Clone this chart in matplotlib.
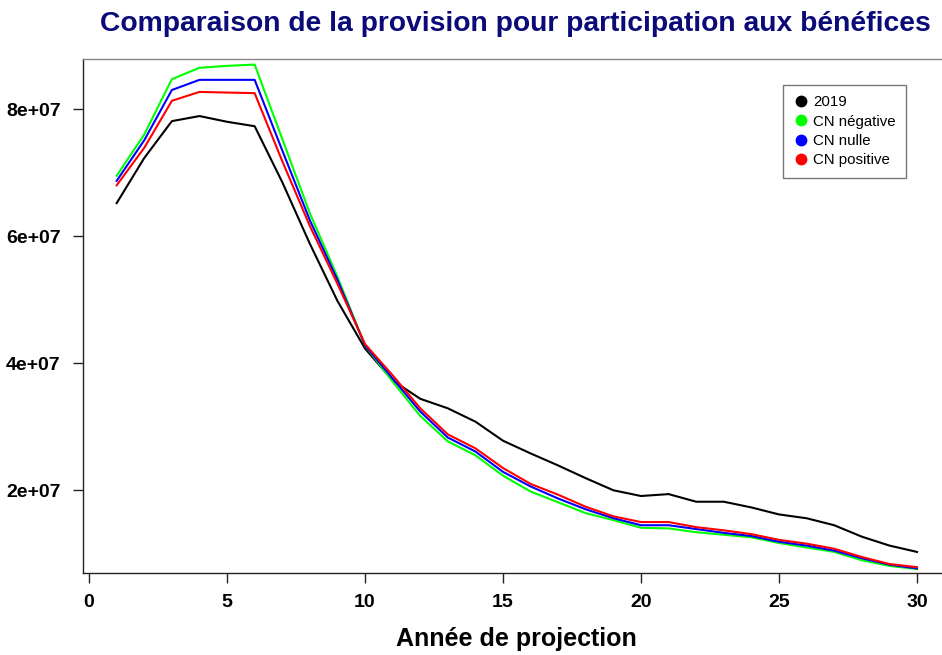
import matplotlib
matplotlib.use("Agg")
import matplotlib.pyplot as plt
from matplotlib.lines import Line2D

plt.rcParams['font.family'] = ['Liberation Sans', 'DejaVu Sans']

years = list(range(1, 31))

pb_2019 = [6.52, 7.23, 7.81, 7.89, 7.80, 7.73, 6.85, 5.88, 4.98, 4.23,
           3.73, 3.44, 3.29, 3.08, 2.78, 2.58, 2.39, 2.19, 2.00, 1.91,
           1.94, 1.82, 1.82, 1.73, 1.62, 1.56, 1.45, 1.27, 1.13, 1.03]
pb_cn_negative = [6.95, 7.60, 8.47, 8.65, 8.68, 8.70, 7.53, 6.36, 5.36, 4.28,
                  3.71, 3.17, 2.77, 2.55, 2.23, 1.98, 1.81, 1.64, 1.53, 1.41,
                  1.40, 1.34, 1.30, 1.26, 1.17, 1.10, 1.03, 0.90, 0.81, 0.76]
pb_cn_nulle = [6.87, 7.51, 8.30, 8.46, 8.46, 8.46, 7.35, 6.25, 5.31, 4.28,
               3.76, 3.24, 2.83, 2.61, 2.29, 2.06, 1.87, 1.70, 1.56, 1.45,
               1.45, 1.39, 1.33, 1.28, 1.19, 1.13, 1.05, 0.93, 0.83, 0.77]
pb_cn_positive = [6.80, 7.39, 8.13, 8.27, 8.26, 8.25, 7.18, 6.16, 5.25, 4.30,
                  3.81, 3.29, 2.88, 2.66, 2.35, 2.10, 1.93, 1.74, 1.59, 1.50,
                  1.50, 1.42, 1.37, 1.31, 1.22, 1.16, 1.08, 0.95, 0.84, 0.79]
scale = 1e7

series_names = ["2019", "CN négative", "CN nulle", "CN positive"]
series_colors = ["black", "#00FF00", "#0000FF", "#FF0000"]
series_values = [pb_2019, pb_cn_negative, pb_cn_nulle, pb_cn_positive]

x_ticks = [0, 5, 10, 15, 20, 25, 30]
y_ticks = [2e7, 4e7, 6e7, 8e7]
y_tick_labels = ["2e+07", "4e+07", "6e+07", "8e+07"]

fig = plt.figure(figsize=(9.42, 6.55), dpi=100)
ax_w = (89 + 31.2 * 27.6 - 83) / 942
ax = fig.add_axes([83 / 942, 82.3 / 655, ax_w, (572.7 - 59) / 655])

for vals, col in zip(series_values, series_colors):
    ax.plot(years, [v * scale for v in vals], color=col, lw=1.5)

ax.set_xlim(-0.22, 31.2)
ax.set_ylim(0.703e7, 8.788e7)

ax.set_xticks(x_ticks)
ax.set_xticklabels([str(t) for t in x_ticks], fontweight='bold', fontsize=14)
ax.set_yticks(y_ticks)
ax.set_yticklabels(y_tick_labels, fontweight='bold', fontsize=14)
ax.tick_params(direction='out', length=7, width=1, colors='#222222',
               labelcolor='black')
ax.tick_params(axis='y', pad=9)
ax.tick_params(axis='x', pad=8)

for side in ['left', 'bottom']:
    ax.spines[side].set_color('#222222')
    ax.spines[side].set_linewidth(1.0)
ax.spines['top'].set_color('#888888')
ax.spines['top'].set_linewidth(1.0)
ax.spines['right'].set_visible(False)

ax.set_xlabel("Année de projection", fontweight='bold', fontsize=18, labelpad=12)

fig.text(515 / 942, 1 - 24 / 655, "Comparaison de la provision pour participation aux bénéfices",
         ha='center', va='center', fontsize=20.3, fontweight='bold', color='#0A0A78')

handles = [Line2D([0], [0], marker='o', linestyle='none', markersize=7.5,
                  markerfacecolor=c, markeredgecolor=c) for c in series_colors]
leg = ax.legend(handles, series_names, loc='upper left',
                bbox_to_anchor=((783 - 83) / (ax_w * 942), 1 - (85 - 59) / (572.7 - 59)),
                frameon=True, fancybox=False, fontsize=10.8, handletextpad=0.3,
                labelspacing=0.35, borderpad=0.7, handlelength=1.0, borderaxespad=0)
leg.get_frame().set_edgecolor('#555555')
leg.get_frame().set_linewidth(1.0)

fig.savefig("out.png", dpi=100)
